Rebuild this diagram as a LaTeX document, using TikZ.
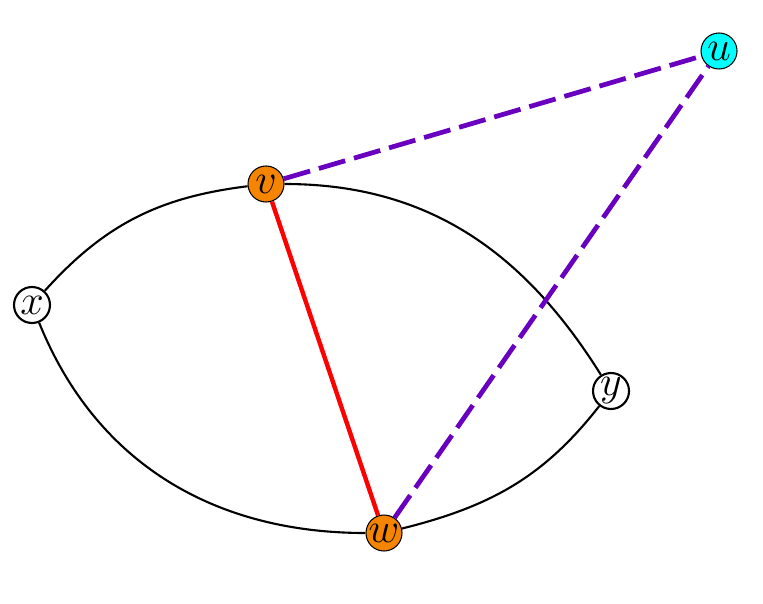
\documentclass[tikz,border=0pt]{standalone}
\usepackage{amsmath}
\usepackage{xcolor}
\usepackage{tikz}
\usetikzlibrary{calc,positioning}
\definecolor{vorange}{HTML}{F58500}
\definecolor{upurple}{HTML}{6A00BF}
\definecolor{ucyan}{RGB}{0,255,255}
\begin{document}
\begin{tikzpicture}[transform shape,scale=1,
	vert/.style={circle,draw,line width=0.6pt,fill=white,inner sep=0pt,minimum size=0.36cm,font=\large},
	hot/.style={vert,fill=vorange,line width=0.3pt},
	far/.style={vert,fill=ucyan,line width=0.3pt},
	rim/.style={black,line width=0.6pt},
	link/.style={upurple,line width=1.35pt,dash pattern=on 7.8pt off 2.6pt}]
	\useasboundingbox (0,0) rectangle (7.63,6.03);
	\node[vert] (x) at (0.32,2.98) {$x$};
	\node[vert] (y) at (6.11,2.12) {$y$};
	\node[hot] (v) at (2.66,4.19) {$v$};
	\node[hot] (w) at (3.84,0.70) {$w$};
	\node[far] (u) at (7.19,5.52) {$u$};
	\draw[rim] (x) to[out=48,in=187] (v);
	\draw[rim] (v) to[out=0,in=122] (y);
	\draw[rim] (y) to[out=-128,in=14] (w);
	\draw[rim] (w) to[out=180,in=-68] (x);
	\draw[red,line width=1.25pt] (v)--(w);
		\draw[link] (v)--(u);
		\draw[link] (w)--(u);
\end{tikzpicture}
\end{document}
